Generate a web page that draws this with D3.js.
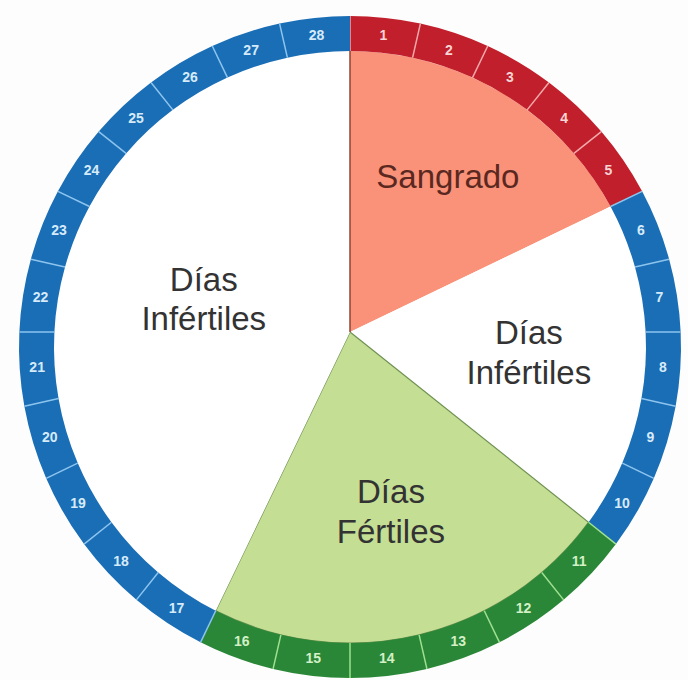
<!DOCTYPE html>
<html>
<head>
<meta charset="utf-8">
<script src="https://cdn.jsdelivr.net/npm/d3@7"></script>
<style>
  body { margin: 0; background: #fdfdfd; }
  svg { display: block; font-family: "Liberation Sans", Arial, sans-serif; }
</style>
</head>
<body>
<svg width="688" height="680"></svg>
<script>
// days of the cycle, and which phase each day of the ring belongs to
const days = [1,2,3,4,5,6,7,8,9,10,11,12,13,14,15,16,17,18,19,20,21,22,23,24,25,26,27,28]
const dayPhase = ["bleed","bleed","bleed","bleed","bleed",
                  "infertile","infertile","infertile","infertile","infertile",
                  "fertile","fertile","fertile","fertile","fertile","fertile",
                  "infertile","infertile","infertile","infertile","infertile","infertile",
                  "infertile","infertile","infertile","infertile","infertile","infertile"]

// inner pie sectors: start and end in days
const sectorNames = ["Sangrado", "Días Infértiles", "Días Fértiles", "Días Infértiles"]
const sectorPhase = ["bleed", "infertile", "fertile", "infertile"]
const sectorStart = [0, 5, 10, 16]
const sectorEnd = [5, 10, 16, 28]

const svg = d3.select("svg")

const cx = 350, cy = 347,          // centre of the ring circle
      apex = {x: 350, y: 332},     // point the day rays start from
      outerR = 331, innerR = 296

const angle = d3.scaleLinear().domain([0, 28]).range([0, 2 * Math.PI])

const ringColor = d3.scaleOrdinal().domain(["bleed","infertile","fertile"]).range(["#c01f2b", "#1a6eb6", "#2a8737"]),
      dividerColor = d3.scaleOrdinal().domain(["bleed","infertile","fertile"]).range(["#f3a9ab", "#8cc4ee", "#9ee08e"]),
      labelColor = d3.scaleOrdinal().domain(["bleed","infertile","fertile"]).range(["#f8d4d4", "#d6ebfa", "#d3f0c6"]),
      sectorFill = d3.scaleOrdinal().domain(["bleed","infertile","fertile"]).range(["#f99278", "#ffffff", "#c4de94"])

// where a ray from the apex at angle a meets the circle of radius rad
function hit(a, rad) {
  const dx = Math.sin(a), dy = -Math.cos(a)
  const ox = apex.x - cx, oy = apex.y - cy
  const b = ox * dx + oy * dy
  const c = ox * ox + oy * oy - rad * rad
  const t = -b + Math.sqrt(b * b - c)
  return [apex.x + t * dx, apex.y + t * dy]
}

function largeArc(p, q) {
  let a0 = Math.atan2(p[0] - cx, cy - p[1]), a1 = Math.atan2(q[0] - cx, cy - q[1])
  let span = a1 - a0
  while (span < 0) span += 2 * Math.PI
  return span > Math.PI ? 1 : 0
}

// pie sectors
const sectors = sectorNames.map((name, i) => ({name: name, phase: sectorPhase[i], start: sectorStart[i], end: sectorEnd[i]}))

svg.append("g").selectAll("path")
  .data(sectors)
  .enter().append("path")
    .attr("d", function (d) {
      const p = hit(angle(d.start), innerR), q = hit(angle(d.end), innerR)
      return "M" + apex.x + "," + apex.y + "L" + p + "A" + innerR + "," + innerR + " 0 " + largeArc(p, q) + " 1 " + q + "Z"
    })
    .style("fill", d => sectorFill(d.phase))
    .style("stroke", d => d.phase === "fertile" ? "#6f9152" : "none")
    .style("stroke-width", 1.2)

// dark edge on the left of the bleeding sector
const top0 = hit(angle(0), innerR)
svg.append("line")
  .attr("x1", apex.x).attr("y1", apex.y).attr("x2", top0[0]).attr("y2", top0[1])
  .style("stroke", "#8f4334").style("stroke-width", 1.5)

// day ring
const ring = svg.append("g").selectAll(".day")
  .data(days)
  .enter().append("g")
    .attr("class", "day")

ring.append("path")
  .attr("d", function (d) {
    const a0 = angle(d - 1), a1 = angle(d)
    const p1 = hit(a0, outerR), p2 = hit(a1, outerR), p3 = hit(a1, innerR), p4 = hit(a0, innerR)
    return "M" + p1 + "A" + outerR + "," + outerR + " 0 0 1 " + p2 + "L" + p3 + "A" + innerR + "," + innerR + " 0 0 0 " + p4 + "Z"
  })
  .style("fill", (d, i) => ringColor(dayPhase[i]))

ring.append("line")
  .attr("x1", d => hit(angle(d - 1), innerR)[0])
  .attr("y1", d => hit(angle(d - 1), innerR)[1])
  .attr("x2", d => hit(angle(d - 1), outerR)[0])
  .attr("y2", d => hit(angle(d - 1), outerR)[1])
  .style("stroke", (d, i) => dividerColor(dayPhase[i]))
  .style("stroke-width", 1.5)

ring.append("text")
  .text(d => d)
  .attr("x", d => hit(angle(d - 0.5), (outerR + innerR) / 2)[0])
  .attr("y", d => hit(angle(d - 0.5), (outerR + innerR) / 2)[1])
  .attr("dy", "0.36em")
  .attr("text-anchor", "middle")
  .style("font-size", "14px")
  .style("font-weight", "bold")
  .style("fill", (d, i) => labelColor(dayPhase[i]))

// sector labels, placed along the middle ray of each sector
const labelDist = [184, 180, 184, 150]

svg.append("g").selectAll("text")
  .data(sectors)
  .enter().append("text")
    .attr("transform", function (d, i) {
      const a = angle((d.start + d.end) / 2)
      return "translate(" + (apex.x + labelDist[i] * Math.sin(a)) + "," + (apex.y - labelDist[i] * Math.cos(a)) + ")"
    })
    .attr("text-anchor", "middle")
    .style("font-size", "33px")
    .style("fill", d => d.phase === "bleed" ? "#5a2820" : "#333")
    .each(function (d) {
      const words = d.name.split(" ")
      const t = d3.select(this)
      words.forEach(function (w, k) {
        t.append("tspan")
          .attr("x", 0)
          .attr("dy", k === 0 ? (0.36 - (words.length - 1) * 0.6) + "em" : "1.2em")
          .text(w)
      })
    })
</script>
</body>
</html>
